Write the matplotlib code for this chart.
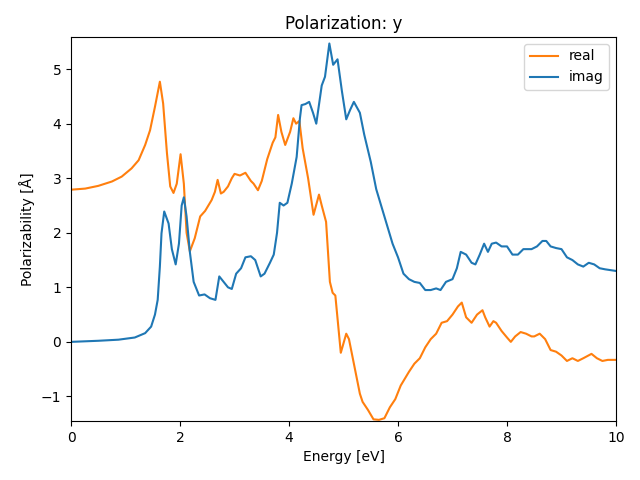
import matplotlib
matplotlib.use("Agg")
import matplotlib.pyplot as plt

# energies and values
real_x = [0.0, 0.26, 0.5, 0.75, 0.93, 1.11, 1.24, 1.36, 1.45, 1.54, 1.63, 1.69,
          1.76, 1.82, 1.88, 1.94, 2.01, 2.07, 2.12, 2.18, 2.27, 2.37, 2.46,
          2.58, 2.64, 2.69, 2.75, 2.8, 2.88, 2.95, 3.0, 3.1, 3.2, 3.3, 3.35,
          3.43, 3.5, 3.6, 3.7, 3.75, 3.8, 3.86, 3.93, 4.02, 4.08, 4.13, 4.19,
          4.25, 4.35, 4.45, 4.55, 4.6, 4.68, 4.75, 4.8, 4.85, 4.95, 5.05, 5.1,
          5.2, 5.3, 5.35, 5.45, 5.55, 5.65, 5.75, 5.85, 5.95, 6.05, 6.2, 6.3,
          6.4, 6.5, 6.6, 6.7, 6.8, 6.9, 7.0, 7.1, 7.17, 7.25, 7.35, 7.45, 7.55,
          7.6, 7.68, 7.75, 7.8, 7.9, 8.0, 8.07, 8.15, 8.25, 8.35, 8.45, 8.5,
          8.6, 8.7, 8.8, 8.9, 9.0, 9.1, 9.2, 9.3, 9.4, 9.55, 9.65, 9.75, 9.85,
          10.0]
real_y = [2.79, 2.81, 2.86, 2.94, 3.03, 3.18, 3.33, 3.61, 3.88, 4.31, 4.77,
          4.37, 3.46, 2.85, 2.73, 2.9, 3.44, 2.9, 2.0, 1.66, 1.9, 2.3, 2.4,
          2.6, 2.75, 2.97, 2.72, 2.75, 2.85, 3.0, 3.08, 3.05, 3.1, 2.95, 2.9,
          2.78, 2.95, 3.35, 3.65, 3.75, 4.16, 3.85, 3.61, 3.85, 4.1, 4.0, 4.05,
          3.55, 3.0, 2.33, 2.7, 2.5, 2.2, 1.1, 0.9, 0.85, -0.2, 0.15, 0.05,
          -0.45, -0.95, -1.1, -1.25, -1.42, -1.43, -1.4, -1.2, -1.05, -0.8,
          -0.55, -0.4, -0.3, -0.1, 0.05, 0.15, 0.35, 0.38, 0.5, 0.65, 0.72,
          0.45, 0.35, 0.5, 0.58, 0.45, 0.28, 0.38, 0.35, 0.2, 0.08, 0.0, 0.1,
          0.18, 0.15, 0.1, 0.1, 0.15, 0.05, -0.15, -0.18, -0.25, -0.35, -0.3,
          -0.35, -0.3, -0.22, -0.3, -0.35, -0.33, -0.33]

imag_x = [0.0, 0.5, 0.87, 1.17, 1.36, 1.47, 1.54, 1.59, 1.63, 1.66, 1.71, 1.79,
          1.85, 1.92, 1.98, 2.03, 2.07, 2.12, 2.18, 2.25, 2.35, 2.45, 2.55,
          2.65, 2.72, 2.8, 2.88, 2.95, 3.03, 3.12, 3.2, 3.3, 3.38, 3.48, 3.55,
          3.65, 3.72, 3.78, 3.83, 3.9, 3.97, 4.05, 4.14, 4.2, 4.23, 4.3, 4.37,
          4.44, 4.5, 4.6, 4.66, 4.74, 4.81, 4.89, 4.97, 5.05, 5.12, 5.19, 5.3,
          5.38, 5.5, 5.6, 5.75, 5.9, 6.0, 6.1, 6.2, 6.3, 6.4, 6.5, 6.6, 6.7,
          6.78, 6.88, 7.0, 7.08, 7.15, 7.25, 7.35, 7.42, 7.5, 7.58, 7.65, 7.72,
          7.8, 7.9, 8.0, 8.1, 8.2, 8.3, 8.45, 8.55, 8.65, 8.72, 8.8, 8.9, 9.0,
          9.1, 9.2, 9.3, 9.4, 9.5, 9.6, 9.7, 9.8, 10.0]
imag_y = [0.0, 0.02, 0.04, 0.08, 0.16, 0.28, 0.5, 0.77, 1.38, 1.99, 2.39, 2.17,
          1.7, 1.42, 1.8, 2.5, 2.65, 2.3, 1.65, 1.1, 0.85, 0.87, 0.8, 0.77,
          1.2, 1.1, 1.0, 0.97, 1.25, 1.35, 1.55, 1.57, 1.5, 1.2, 1.25, 1.45,
          1.6, 2.0, 2.55, 2.5, 2.55, 2.9, 3.39, 4.1, 4.34, 4.36, 4.4, 4.2, 4.0,
          4.7, 4.86, 5.47, 5.08, 5.18, 4.6, 4.08, 4.25, 4.4, 4.2, 3.8, 3.3,
          2.8, 2.3, 1.8, 1.55, 1.25, 1.15, 1.1, 1.08, 0.95, 0.95, 0.98, 0.95,
          1.1, 1.15, 1.35, 1.65, 1.6, 1.45, 1.42, 1.6, 1.8, 1.65, 1.8, 1.82,
          1.75, 1.75, 1.6, 1.6, 1.7, 1.7, 1.75, 1.85, 1.85, 1.75, 1.72, 1.7,
          1.55, 1.5, 1.42, 1.38, 1.45, 1.42, 1.35, 1.33, 1.3]

fig, ax = plt.subplots(figsize=(6.4, 4.8), dpi=100)
ax.plot(real_x, real_y, color="C1", label="real")
ax.plot(imag_x, imag_y, color="C0", label="imag")
ax.set_xlim(0, 10)
ax.set_ylim(-1.45, 5.59)
ax.set_xlabel("Energy [eV]")
ax.set_ylabel("Polarizability [Å]")
ax.set_title("Polarization: y")
ax.legend(loc="upper right")
fig.subplots_adjust(left=0.111, right=0.9625, bottom=0.123, top=0.923)
fig.savefig("out.png")
